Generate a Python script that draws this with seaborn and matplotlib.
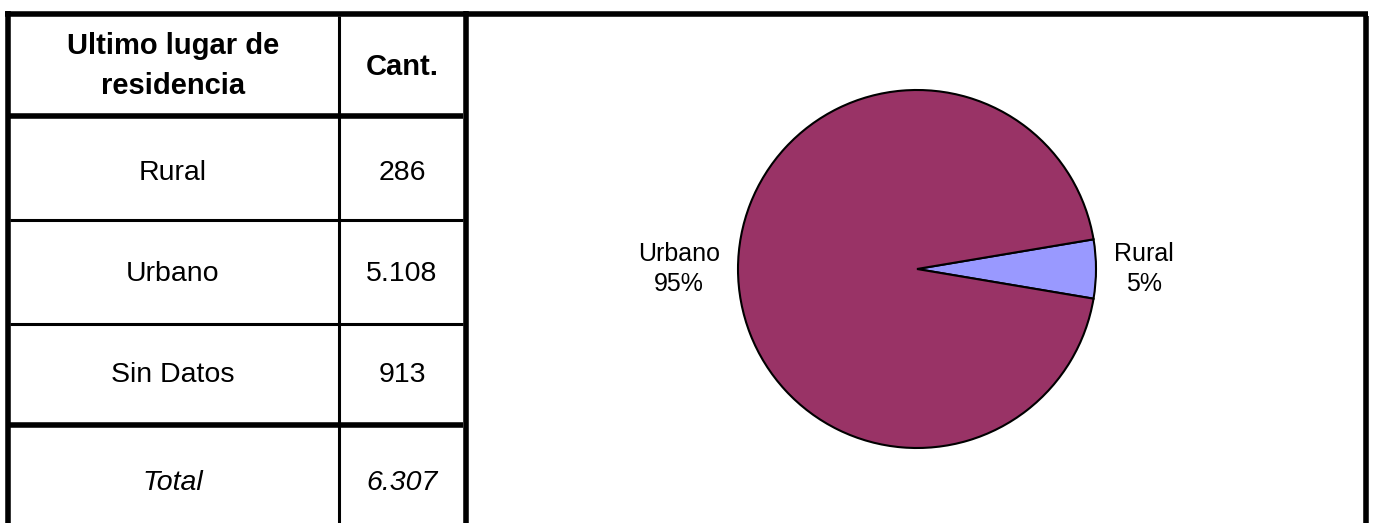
"""
plot.py
Tabla "Ultimo lugar de residencia" con torta Urbano / Rural al lado.
"""

import matplotlib
matplotlib.use("Agg")
import matplotlib.pyplot as plt
import seaborn as sns

categories = ["Rural", "Urbano", "Sin Datos"]
counts = [286, 5108, 913]
header = ["Ultimo lugar de\nresidencia", "Cant."]
total_label = "Total"

pie_categories = ["Rural", "Urbano"]
pie_values = [286, 5108]
pie_colors = ["#9999FF", "#993366"]

sns.set_theme(style="white")
plt.rcParams["font.family"] = ["Liberation Sans", "DejaVu Sans"]
plt.rcParams["text.color"] = "black"

W, H = 1374, 523
fig = plt.figure(figsize=(W / 100, H / 100), dpi=100)
fig.patch.set_facecolor("white")

# fondo en coordenadas de pixel
ax = fig.add_axes([0, 0, 1, 1])
ax.set_xlim(0, W)
ax.set_ylim(H, 0)
ax.axis("off")

thick = 4.0
thin = 2.2

# borde exterior
ax.plot([5, 1368], [13.5, 13.5], color="black", lw=thick, solid_capstyle="butt")
ax.plot([7.5, 7.5], [11, H], color="black", lw=thick, solid_capstyle="butt")
ax.plot([1366, 1366], [16, H], color="black", lw=thick, solid_capstyle="butt")

# grilla de la tabla
ax.plot([465.5, 465.5], [11, H], color="black", lw=thick, solid_capstyle="butt")
ax.plot([339, 339], [16, H], color="black", lw=thin, solid_capstyle="butt")
for y, lw in [(116, thick), (220, thin), (323.5, thin), (425, thick)]:
    ax.plot([10, 463], [y, y], color="black", lw=lw, solid_capstyle="butt")

fs = 20.5
col_x = [173, 402]

ax.text(col_x[0], 66, header[0], ha="center", va="center", fontsize=21,
        fontweight="bold", linespacing=1.52, multialignment="center")
ax.text(col_x[1], 75, header[1], ha="center", va="baseline", fontsize=21,
        fontweight="bold")


def fmt(n):
    return f"{n:,}".replace(",", ".")


row_baselines = [180, 281, 382]
for name, n, yb in zip(categories, counts, row_baselines):
    ax.text(col_x[0], yb, name, ha="center", va="baseline", fontsize=fs)
    ax.text(col_x[1], yb, fmt(n), ha="center", va="baseline", fontsize=fs)

ax.text(col_x[0], 490, total_label, ha="center", va="baseline", fontsize=fs,
        fontstyle="italic")
ax.text(col_x[1], 490, fmt(sum(counts)), ha="center", va="baseline", fontsize=fs,
        fontstyle="italic")

# torta
cx, cy, r = 917, 269, 179
pax = fig.add_axes([(cx - r) / W, (H - cy - r) / H, 2 * r / W, 2 * r / H])
tot = sum(pie_values)
labels = [f"{c}\n{round(v / tot * 100)}%" for c, v in zip(pie_categories, pie_values)]
start = -pie_values[0] / tot * 180
pax.pie(pie_values, labels=labels, colors=pie_colors, startangle=start,
        labeldistance=1.1, radius=1,
        wedgeprops={"edgecolor": "black", "linewidth": 1.5},
        textprops={"fontsize": 18, "color": "black",
                   "multialignment": "center", "linespacing": 1.35})
pax.set_xlim(-1, 1)
pax.set_ylim(-1, 1)
pax.axis("off")

plt.savefig("out.png", dpi=100)
plt.close()
